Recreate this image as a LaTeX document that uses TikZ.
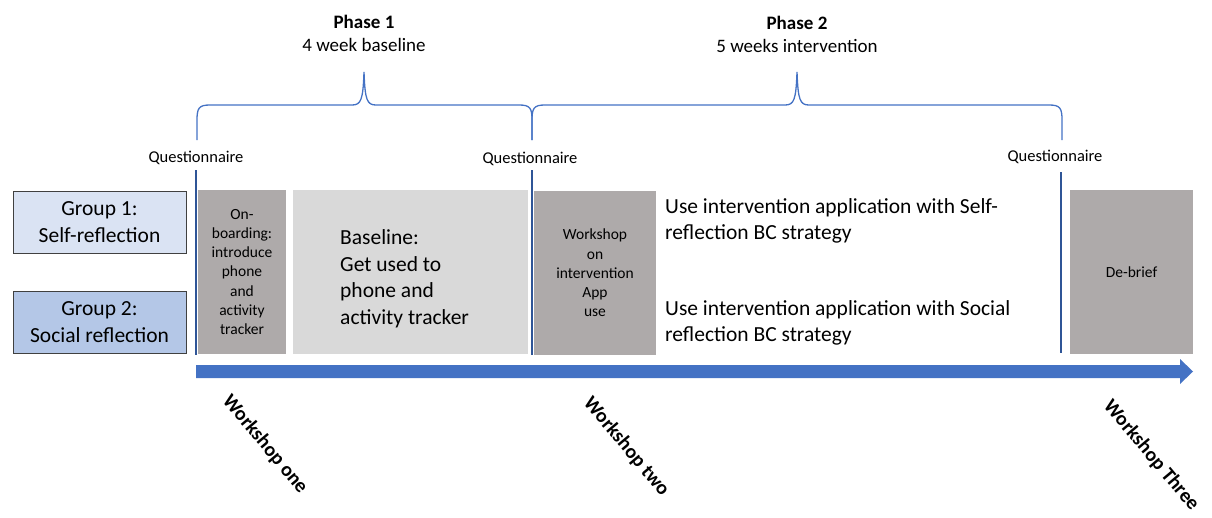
\documentclass[tikz,border=0pt]{standalone}
\usepackage{fontspec}
\setmainfont{Carlito}
\usetikzlibrary{arrows.meta}
\definecolor{gonefill}{HTML}{DAE3F3}
\definecolor{gtwofill}{HTML}{B4C7E7}
\definecolor{boxborder}{HTML}{404040}
\definecolor{darkgray}{HTML}{AEAAAA}
\definecolor{lightgray}{HTML}{D9D9D9}
\definecolor{bracecol}{HTML}{4472C4}
\definecolor{linecol}{HTML}{2F5597}
\begin{document}
\begin{tikzpicture}[x=1pt,y=-1pt,
  groupbox/.style={draw=boxborder, line width=0.9pt, minimum width=173pt, minimum height=62pt, align=center, inner sep=0pt, font=\fontsize{21.5}{27}\selectfont},
  graybox/.style={fill=darkgray, draw=none, minimum height=164pt, inner sep=0pt, align=center, font=\fontsize{15.5}{19.3}\selectfont},
  lightbox/.style={fill=lightgray, draw=none, minimum height=164pt, inner sep=0pt},
  bigtext/.style={align=left, inner sep=0pt, font=\fontsize{21.5}{26.5}\selectfont},
  qtext/.style={inner sep=0pt, font=\fontsize{16.5}{20}\selectfont},
  phasetitle/.style={inner sep=0pt, font=\fontsize{19}{23}\selectfont\bfseries},
  phasesub/.style={inner sep=0pt, font=\fontsize{19}{23}\selectfont},
  wslabel/.style={inner sep=0pt, anchor=west, rotate=-50, font=\fontsize{20}{24}\selectfont\bfseries},
  bracepath/.style={draw=bracecol, line width=1.3pt},
  vline/.style={draw=linecol, line width=1.4pt}
]
\useasboundingbox (0,0) rectangle (1212,517);

% phase titles
\node[phasetitle] (p1t) at (364,22) {Phase 1};
\node[phasesub] (p1s) at (364,45) {4 week baseline};
\node[phasetitle] (p2t) at (797,23) {Phase 2};
\node[phasesub] (p2s) at (797,46) {5 weeks intervention};

% braces
\draw[bracepath] (197,140) -- (197,120) .. controls (197,108) and (199,105) .. (210,105) -- (352,105)
  .. controls (361,105) and (363,100) .. (364,72) .. controls (365,100) and (367,105) .. (376,105)
  -- (519,105) .. controls (530,105) and (532,108) .. (532,120) -- (532,140);
\draw[bracepath] (532,140) -- (532,120) .. controls (532,108) and (534,105) .. (545,105) -- (785,105)
  .. controls (794,105) and (796,100) .. (797,72) .. controls (798,100) and (800,105) .. (809,105)
  -- (1049,105) .. controls (1060,105) and (1062,108) .. (1062,120) -- (1062,140);

% questionnaire labels
\node[qtext] (q1) at (196,158) {Questionnaire};
\node[qtext] (q2) at (530,159) {Questionnaire};
\node[qtext] (q3) at (1055,157) {Questionnaire};

% group boxes
\node[groupbox, fill=gonefill] (g1) at (99.5,222) {Group 1:\\Self-reflection};
\node[groupbox, fill=gtwofill] (g2) at (99.5,322.5) {Group 2:\\Social reflection};

% phase boxes
\node[graybox, minimum width=88pt] (onb) at (242,272) {On-\\boarding:\\introduce\\phone\\and\\activity\\tracker};
\node[lightbox, minimum width=235pt] (base) at (410.5,272) {};
\node[bigtext, anchor=west] (basetxt) at (340,279) {Baseline:\\Get used to\\phone and\\activity tracker};
\node[graybox, minimum width=122pt] (wsbox) at (595,273) {Workshop\\on\\intervention\\App\\use};
\node[graybox, minimum width=123pt] (debrief) at (1131.5,272) {De-brief};

% intervention texts
\node[bigtext, anchor=west] (int1) at (665,221) {Use intervention application with Self-\\reflection BC strategy};
\node[bigtext, anchor=west] (int2) at (665,323) {Use intervention application with Social\\reflection BC strategy};

% vertical marker lines
\coordinate (v1a) at (196,170); \coordinate (v1b) at (196,355);
\coordinate (v2a) at (532,170); \coordinate (v2b) at (532,355);
\coordinate (v3a) at (1061,172); \coordinate (v3b) at (1061,353);
\draw[vline] (v1a) -- (v1b);
\draw[vline] (v2a) -- (v2b);
\draw[vline] (v3a) -- (v3b);

% timeline arrow
\fill[bracecol] (196,365) -- (1180,365) -- (1180,359) -- (1193,371.5) -- (1180,384) -- (1180,378) -- (196,378) -- cycle;

% workshop labels
\node[wslabel] (w1) at (226,398) {Workshop one};
\node[wslabel] (w2) at (587,400) {Workshop two};
\node[wslabel] (w3) at (1107,403) {Workshop Three};
\end{tikzpicture}
\end{document}
